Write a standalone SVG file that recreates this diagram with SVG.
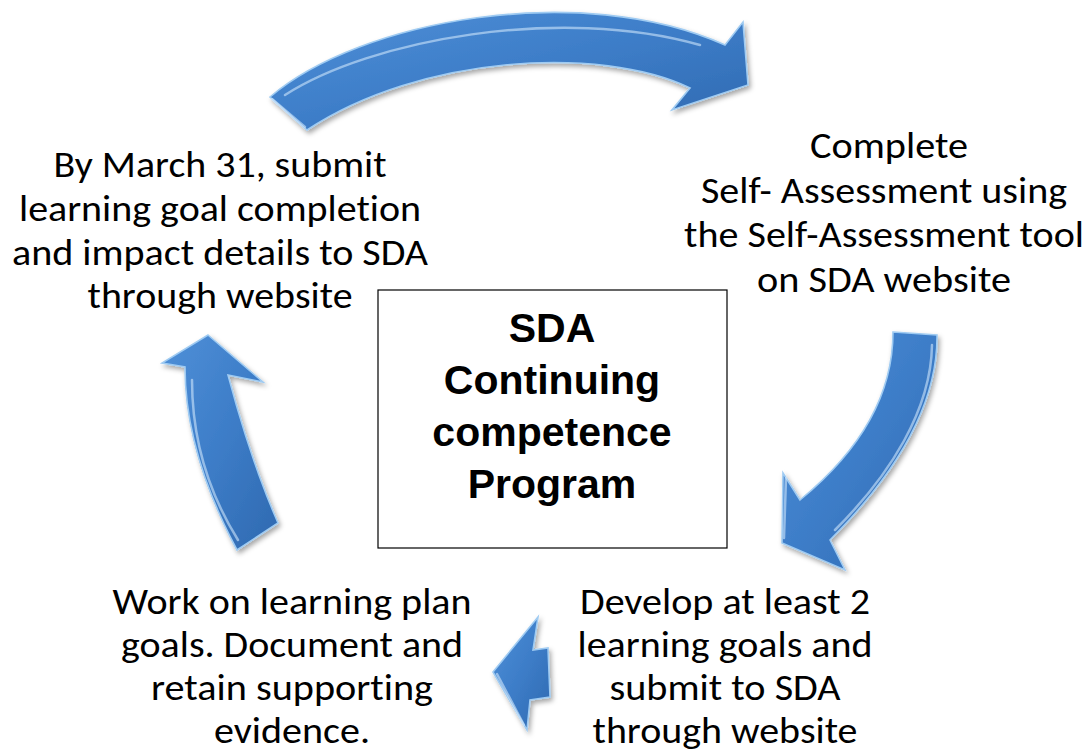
<svg xmlns="http://www.w3.org/2000/svg" width="1087" height="752" viewBox="0 0 1087 752">
<defs>
<linearGradient id="blueFill" x1="0" y1="0" x2="1" y2="1">
<stop offset="0" stop-color="#4f90d8"/>
<stop offset="0.5" stop-color="#3d7dc8"/>
<stop offset="1" stop-color="#2f69b0"/>
</linearGradient>
<filter id="shadow" x="-20%" y="-20%" width="140%" height="140%">
<feDropShadow dx="2" dy="3" stdDeviation="2.5" flood-color="#000" flood-opacity="0.35"/>
</filter>
<style>
.arrow{fill:url(#blueFill);stroke:#9fcbf2;stroke-width:1.6;stroke-linejoin:miter;filter:url(#shadow)}
.hl{fill:none;stroke:#cfe6fb;stroke-width:2.5;stroke-linecap:round;opacity:0.6}
.body{font-family:Carlito,Lato,"Liberation Sans",sans-serif;font-size:37px;fill:#000;text-anchor:middle;font-variant-ligatures:none}
.low{font-size:36px}
.title{font-family:"Liberation Sans",Arial,sans-serif;font-weight:bold;font-size:41px;fill:#000;text-anchor:middle}
.box{fill:#fff;stroke:#000;stroke-width:1.2}
</style>
</defs>
<rect width="1087" height="752" fill="#fff"/>

<g id="connectors">
<g id="arrow-top">
<path class="arrow" d="M270,97 C360,20 580,-20 725,45 L743,22 L748,85 L672,110 L690,88 C600,45 420,55 307,130 Z"/>
<path class="hl" d="M285,95 C370,40 560,5 700,45"/>
<path class="hl" d="M272,99 L305,127"/>
</g>
<g id="arrow-right">
<path class="arrow" d="M893,332 L937,335 C938,410 890,480 830,540 L845,570 L782,543 L783,473 L800,500 C855,455 893,400 893,332 Z"/>
<path class="hl" d="M932,345 C931,410 890,475 835,530"/>
<path class="hl" d="M786,478 L784,538"/>
</g>
<g id="arrow-bottom">
<path class="arrow" d="M493,672 L538,617 L533,650 L548,648 L550,697 L530,700 L527,730 Z"/>
<path class="hl" d="M497,674 L524,725"/>
</g>
<g id="arrow-left">
<path class="arrow" d="M208,335 L263,382 L228,375 C240,420 255,470 278,523 L237,550 C205,490 185,430 185,367 L162,363 Z"/>
<path class="hl" d="M192,380 C192,440 210,495 238,540"/>
</g>
</g>

<g id="node-center">
<rect class="box" x="378" y="290" width="349" height="258"/>
<text class="title" x="552" y="342">SDA</text>
<text class="title" x="552" y="394">Continuing</text>
<text class="title" x="552" y="446">competence</text>
<text class="title" x="552" y="498">Program</text>
</g>

<g id="node-submit">
<text class="body" x="220" y="177" textLength="333" lengthAdjust="spacingAndGlyphs">By March 31, submit</text>
<text class="body" x="220" y="221" textLength="402" lengthAdjust="spacingAndGlyphs">learning goal completion</text>
<text class="body" x="220" y="265" textLength="416" lengthAdjust="spacingAndGlyphs">and impact details to SDA</text>
<text class="body" x="220" y="308" textLength="265" lengthAdjust="spacingAndGlyphs">through website</text>
</g>

<g id="node-self-assessment">
<text class="body" x="889" y="158" textLength="158" lengthAdjust="spacingAndGlyphs">Complete</text>
<text class="body" x="884" y="203" textLength="366" lengthAdjust="spacingAndGlyphs">Self- Assessment using</text>
<text class="body" x="884" y="247" textLength="400" lengthAdjust="spacingAndGlyphs">the Self-Assessment tool</text>
<text class="body" x="884" y="292" textLength="254" lengthAdjust="spacingAndGlyphs">on SDA website</text>
</g>

<g id="node-develop">
<text class="body low" x="725" y="614" textLength="290" lengthAdjust="spacingAndGlyphs">Develop at least 2</text>
<text class="body low" x="725" y="657" textLength="295" lengthAdjust="spacingAndGlyphs">learning goals and</text>
<text class="body low" x="725" y="700" textLength="231" lengthAdjust="spacingAndGlyphs">submit to SDA</text>
<text class="body low" x="725" y="743" textLength="265" lengthAdjust="spacingAndGlyphs">through website</text>
</g>

<g id="node-work">
<text class="body low" x="292" y="614" textLength="359" lengthAdjust="spacingAndGlyphs">Work on learning plan</text>
<text class="body low" x="292" y="657" textLength="342" lengthAdjust="spacingAndGlyphs">goals. Document and</text>
<text class="body low" x="292" y="700" textLength="282" lengthAdjust="spacingAndGlyphs">retain supporting</text>
<text class="body low" x="292" y="743" textLength="156" lengthAdjust="spacingAndGlyphs">evidence.</text>
</g>
</svg>
